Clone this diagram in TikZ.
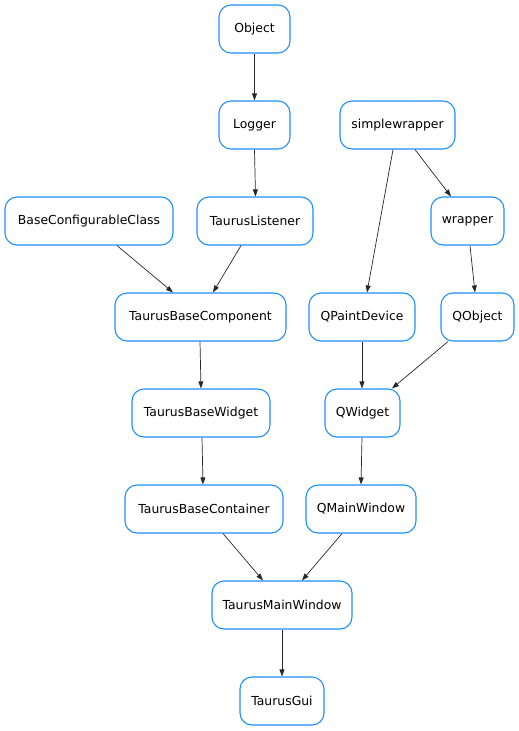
\documentclass[tikz,border=0pt]{standalone}
\usepackage{fontspec}
\setmainfont{DejaVu Sans}
\usetikzlibrary{arrows.meta}
\definecolor{boxblue}{RGB}{30,144,255}
\definecolor{edgecol}{RGB}{40,40,40}
\begin{document}
\begin{tikzpicture}[x=1pt,y=-1pt,
  cls/.style={draw=boxblue, line width=1.1pt, rounded corners=12pt, fill=white,
    minimum height=48pt, inner xsep=2pt, font=\fontsize{12.4}{15}\selectfont, text=black},
  inh/.style={draw=edgecol, line width=0.7pt, -{Triangle[length=7pt,width=5pt]}}]
\useasboundingbox (0,0) rectangle (519,731);
% nodes
\node[cls, minimum width=71pt]  (obj)  at (254.5,29)  {Object};
\node[cls, minimum width=71pt]  (log)  at (254.5,125) {Logger};
\node[cls, minimum width=115pt] (sw)   at (397.5,125) {simplewrapper};
\node[cls, minimum width=168pt] (bcc)  at (89,221)    {BaseConfigurableClass};
\node[cls, minimum width=116pt] (tl)   at (255,221)   {TaurusListener};
\node[cls, minimum width=73pt]  (wr)   at (467.5,221) {wrapper};
\node[cls, minimum width=171pt] (tbc)  at (200.5,317) {TaurusBaseComponent};
\node[cls, minimum width=106pt] (qpd)  at (362,317)   {QPaintDevice};
\node[cls, minimum width=73pt]  (qo)   at (477.5,317) {QObject};
\node[cls, minimum width=138pt] (tbw)  at (201,413)   {TaurusBaseWidget};
\node[cls, minimum width=75pt]  (qw)   at (362.5,413) {QWidget};
\node[cls, minimum width=158pt] (tbct) at (204,509)   {TaurusBaseContainer};
\node[cls, minimum width=110pt] (qmw)  at (361,509)   {QMainWindow};
\node[cls, minimum width=140pt] (tmw)  at (282,605)   {TaurusMainWindow};
\node[cls, minimum width=84pt]  (tg)   at (282,701)   {TaurusGui};
% edges
\draw[inh] (obj.south) -- (log.north);
\draw[inh] (log.south) -- ([xshift=0.5pt]tl.north);
\draw[inh] ([xshift=28pt]bcc.south) -- ([xshift=-27.5pt]tbc.north);
\draw[inh] ([xshift=-14pt]tl.south) -- ([xshift=12.5pt]tbc.north);
\draw[inh] ([xshift=-4.5pt]sw.south) -- ([xshift=5pt]qpd.north);
\draw[inh] ([xshift=17.5pt]sw.south) -- ([xshift=-16.5pt]wr.north);
\draw[inh] ([xshift=2.5pt]wr.south) -- ([xshift=-2.5pt]qo.north);
\draw[inh] ([xshift=-0.5pt]tbc.south) -- (tbw.north);
\draw[inh] (qpd.south) -- ([xshift=-0.5pt]qw.north);
\draw[inh] ([xshift=-29.5pt]qo.south) -- ([xshift=29.5pt]qw.north);
\draw[inh] ([xshift=1pt]tbw.south) -- ([xshift=-1pt]tbct.north);
\draw[inh] ([xshift=-0.5pt]qw.south) -- (qmw.north);
\draw[inh] ([xshift=19pt]tbct.south) -- ([xshift=-19pt]tmw.north);
\draw[inh] ([xshift=-19pt]qmw.south) -- ([xshift=20pt]tmw.north);
\draw[inh] (tmw.south) -- (tg.north);
\end{tikzpicture}
\end{document}
